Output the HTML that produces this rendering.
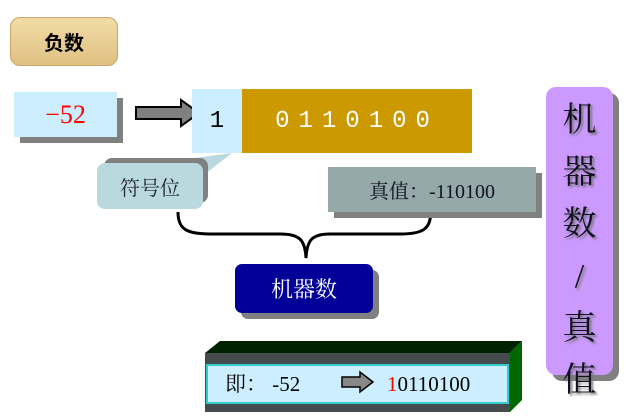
<!DOCTYPE html>
<html><head><meta charset="utf-8"><style>
body{margin:0;width:626px;height:419px;background:#fff;position:relative;overflow:hidden;font-family:"Liberation Serif","Noto Serif CJK SC",serif}
.a{position:absolute}
.c{display:flex;align-items:center;justify-content:center}
</style></head><body>
<div class="a c" style="left:10px;top:17px;width:108px;height:49px;border-radius:10px;background:linear-gradient(#f2dca6,#e0c083);border:1px solid #c9a56a;box-sizing:border-box;font-family:'Noto Sans CJK SC',sans-serif;font-weight:bold;font-size:20px;color:#000">负数</div>

<div class="a" style="left:20px;top:98px;width:103px;height:45px;background:#808080"></div>
<div class="a c" style="left:14px;top:92px;width:103px;height:45px;background:#cceeff;color:#ff0000;font-size:26px">−52</div>

<svg class="a" style="left:0;top:0" width="626" height="419">
<polygon points="136,107 181,107 181,100 199,113 181,126 181,119 136,119" fill="#808080" stroke="#000" stroke-width="2"/>
<polygon points="195,158 232,153 200,178" fill="#b9d9df"/>
<path d="M178,212 C178,232 190,234 215,234 L280,234 C300,234 305,240 306,258 C307,240 312,234 330,234 L400,234 C425,234 430,228 431,212" fill="none" stroke="#000" stroke-width="3"/>
<polygon points="205,353 220,341 522,341 510,353" fill="#002200"/>
<polygon points="510,353 522,341 522,400 510,412" fill="#006600"/>
<rect x="205" y="353" width="305" height="59" fill="#454b4d"/>
<rect x="207" y="365" width="301" height="38" fill="#cceeff" stroke="#33cccc" stroke-width="2"/>
<polygon points="342,377 360,377 360,372 373,382 360,392 360,387 342,387" fill="#888" stroke="#000" stroke-width="1.5"/>
</svg>

<div class="a c" style="left:192px;top:89px;width:50px;height:64px;background:#cceeff;font-family:'Liberation Mono',monospace;font-size:24px;color:#000">1</div>
<div class="a c" style="left:242px;top:89px;width:230px;height:64px;background:#cc9900;font-family:'Liberation Mono',monospace;font-size:24px;color:#fff;letter-spacing:9px">0110100</div>

<div class="a" style="left:104px;top:158px;width:104px;height:45px;background:#808080;border-radius:8px"></div>
<div class="a c" style="left:97px;top:163px;width:106px;height:46px;background:#b9d9df;border-radius:8px;font-size:20px;color:#223">符号位</div>

<div class="a" style="left:334px;top:173px;width:208px;height:45px;background:#808080"></div>
<div class="a c" style="left:328px;top:167px;width:208px;height:45px;background:#95a9a9;font-size:20px;color:#112">真值：-110100</div>

<div class="a" style="left:241px;top:270px;width:138px;height:49px;background:#808080;border-radius:7px"></div>
<div class="a c" style="left:235px;top:264px;width:138px;height:49px;background:#000099;border-radius:7px;font-size:22px;color:#fff">机器数</div>

<div class="a" style="left:552px;top:93px;width:67px;height:288px;background:#808080;border-radius:10px"></div>
<div class="a" style="left:546px;top:87px;width:67px;height:288px;background:#cc99ff;border-radius:10px;font-size:34px;color:#112;text-align:center;line-height:52px;padding-top:8px;box-sizing:border-box;text-shadow:2px 2px 2px #777">机<br>器<br>数<br>/<br>真<br>值</div>

<div class="a" style="left:225px;top:369px;font-size:21px;line-height:30px;color:#000">即：&nbsp;-52</div>
<div class="a" style="left:387px;top:369px;font-size:21px;line-height:30px;color:#000"><span style="color:#ff0000">1</span>0110100</div>
</body></html>
